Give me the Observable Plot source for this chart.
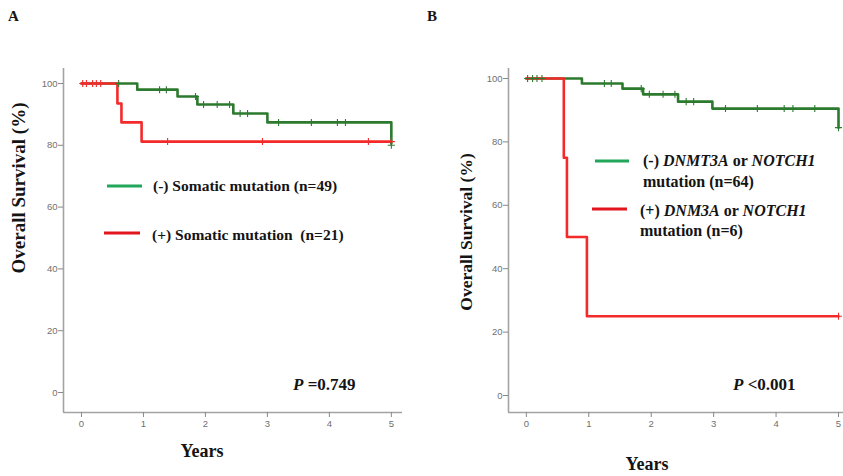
<!DOCTYPE html>
<html>
<head>
<meta charset="utf-8">
<script src="https://cdn.jsdelivr.net/npm/d3@7"></script>
<script src="https://cdn.jsdelivr.net/npm/@observablehq/plot@0.6"></script>
<style>
  html, body { margin: 0; padding: 0; background: #ffffff; }
  #wrap { position: relative; width: 843px; height: 476px; overflow: hidden; background: #ffffff; }
  #wrap > svg { position: absolute; top: 0; }
</style>
</head>
<body>
<div id="wrap"></div>
<script>
// ---------------- data ----------------
const yearTicks = [0, 1, 2, 3, 4, 5];
const survTicks = [0, 20, 40, 60, 80, 100];

// Panel A: (-) somatic mutation (n=49)
const aNegTime = [0, 0.90, 1.55, 1.87, 2.45, 3.00, 5.00];
const aNegSurv = [100, 98.0, 95.8, 93.2, 90.3, 87.4, 80.6];
const aNegCensorTime = [0.60, 1.26, 1.37, 1.84, 1.97, 2.19, 2.39, 2.56, 2.68, 3.18, 3.71, 4.13, 4.26, 5.00];
const aNegCensorSurv = [100, 98.0, 98.0, 95.8, 93.2, 93.2, 93.2, 90.3, 90.3, 87.4, 87.4, 87.4, 87.4, 80.0];
// Panel A: (+) somatic mutation (n=21)
const aPosTime = [0, 0.58, 0.645, 0.97, 5.00];
const aPosSurv = [100, 93.5, 87.4, 81.2, 81.2];
const aPosCensorTime = [0.02, 0.08, 0.18, 0.24, 0.31, 1.39, 2.92, 4.63, 5.00];
const aPosCensorSurv = [100, 100, 100, 100, 100, 81.2, 81.2, 81.2, 81.2];

// Panel B: (-) DNMT3A or NOTCH1 mutation (n=64)
const bNegTime = [0, 0.89, 1.54, 1.87, 2.43, 2.98, 5.00];
const bNegSurv = [100, 98.4, 96.8, 95.0, 92.7, 90.5, 84.5];
const bNegCensorTime = [0.02, 0.10, 0.17, 0.25, 1.25, 1.36, 1.84, 1.97, 2.19, 2.38, 2.56, 2.68, 3.19, 3.70, 4.13, 4.27, 4.62, 5.00];
const bNegCensorSurv = [100, 100, 100, 100, 98.4, 98.4, 96.8, 95.0, 95.0, 95.0, 92.7, 92.7, 90.5, 90.5, 90.5, 90.5, 90.5, 84.5];
// Panel B: (+) DNM3A or NOTCH1 mutation (n=6)
const bPosTime = [0, 0.60, 0.65, 0.97, 5.00];
const bPosSurv = [100, 75, 50, 25, 25];
const bPosCensorTime = [5.00];
const bPosCensorSurv = [25];

// text
const panelLetters = ["A", "B"];
const yTitle = "Overall Survival (%)";
const xTitle = "Years";
const legendA = [
  [{t: "(-) Somatic mutation (n=49)"}],
  [{t: "(+) Somatic mutation  (n=21)"}]
];
const legendB = [
  [[{t: "(-) "}, {t: "DNMT3A", i: true}, {t: " or "}, {t: "NOTCH1", i: true}], [{t: "mutation (n=64)"}]],
  [[{t: "(+) "}, {t: "DNM3A", i: true}, {t: " or "}, {t: "NOTCH1", i: true}], [{t: "mutation (n=6)"}]]
];
const pTexts = [[{t: "P", i: true}, {t: " =0.749"}], [{t: "P", i: true}, {t: " <0.001"}]];

// ---------------- helpers ----------------
const GREEN = "#2c7a2e";
const RED = "#f42a2a";
const LEG_GREEN = "#21a65a";
const LEG_RED = "#e2141c";
const AXIS = "#a3a3a3";

const zip = (t, s) => t.map((d, i) => ({t: d, s: s[i]}));

function kmPanel(o) {
  return Plot.plot({
    width: o.width, height: 476,
    marginLeft: o.ml, marginRight: o.mr, marginTop: 68, marginBottom: 64,
    x: {domain: o.xd},
    y: {domain: o.yd},
    style: {color: "#707070", fontSize: "9.5px", fontFamily: "'Liberation Sans', Arial, sans-serif", background: "transparent", overflow: "visible"},
    marks: [
      Plot.ruleX([o.xd[0]], {stroke: AXIS, strokeWidth: 1.6}),
      Plot.ruleY([o.yd[0]], {stroke: AXIS, strokeWidth: 1.6}),
      Plot.axisX({ticks: yearTicks, tickFormat: d3.format("d"), tickSize: 5, tickPadding: 3, label: null, stroke: "#888"}),
      Plot.axisY({ticks: survTicks, tickFormat: d3.format("d"), tickSize: 5, tickPadding: 1, label: null, stroke: "#888"}),
      Plot.line(zip(o.negT, o.negS), {x: "t", y: "s", curve: "step-after", stroke: GREEN, strokeWidth: 2.6}),
      Plot.line(zip(o.posT, o.posS), {x: "t", y: "s", curve: "step-after", stroke: RED, strokeWidth: 2.6}),
      Plot.dot(zip(o.posCT, o.posCS), {x: "t", y: "s", symbol: "plus", r: 2.4, stroke: RED, strokeWidth: 1.1}),
      Plot.dot(zip(o.negCT, o.negCS), {x: "t", y: "s", symbol: "plus", r: 2.4, stroke: GREEN, strokeWidth: 1.1})
    ]
  });
}

const wrap = document.getElementById("wrap");

const chartA = kmPanel({
  width: 415, ml: 63, mr: 13, xd: [-0.29, 5.18], yd: [-6.47, 104.85],
  negT: aNegTime, negS: aNegSurv, posT: aPosTime, posS: aPosSurv,
  negCT: aNegCensorTime, negCS: aNegCensorSurv, posCT: aPosCensorTime, posCS: aPosCensorSurv
});
chartA.style.left = "0px";
wrap.appendChild(chartA);

const chartB = kmPanel({
  width: 413, ml: 78, mr: 0, xd: [-0.286, 5.08], yd: [-5.36, 103.15],
  negT: bNegTime, negS: bNegSurv, posT: bPosTime, posS: bPosSurv,
  negCT: bNegCensorTime, negCS: bNegCensorSurv, posCT: bPosCensorTime, posCS: bPosCensorSurv
});
chartB.style.left = "430px";
wrap.appendChild(chartB);

// ---------------- text overlay ----------------
const svg = d3.create("svg")
  .attr("width", 843).attr("height", 476)
  .style("left", "0px").style("pointer-events", "none")
  .style("font-family", "'Liberation Serif', 'Times New Roman', serif")
  .style("font-weight", "bold")
  .attr("fill", "#141414");

function rich(x, y, parts, size, anchor) {
  const t = svg.append("text").attr("x", x).attr("y", y)
    .attr("font-size", size).attr("text-anchor", anchor || "start")
    .attr("xml:space", "preserve").style("white-space", "pre");
  parts.forEach(p => t.append("tspan").attr("font-style", p.i ? "italic" : "normal").text(p.t));
  return t;
}

// panel letters
rich(8, 21, [{t: panelLetters[0]}], 15);
rich(427, 21, [{t: panelLetters[1]}], 15);

// y titles
svg.append("text").attr("transform", "translate(25,188) rotate(-90)")
  .attr("text-anchor", "middle").attr("font-size", 19).text(yTitle);
svg.append("text").attr("transform", "translate(472,232) rotate(-90)")
  .attr("text-anchor", "middle").attr("font-size", 17.5).text(yTitle);

// x titles
rich(202, 457, [{t: xTitle}], 18, "middle");
rich(647, 470, [{t: xTitle}], 18, "middle");

// p values
rich(293, 390, pTexts[0], 17);
rich(733, 390, pTexts[1], 17);

// legend A
svg.append("line").attr("x1", 107).attr("x2", 142).attr("y1", 186).attr("y2", 186).attr("stroke", LEG_GREEN).attr("stroke-width", 3);
svg.append("line").attr("x1", 104).attr("x2", 140).attr("y1", 233).attr("y2", 233).attr("stroke", LEG_RED).attr("stroke-width", 3);
rich(153, 191, legendA[0], 15.5);
rich(152, 240, legendA[1], 15.5);

// legend B
svg.append("line").attr("x1", 595).attr("x2", 629).attr("y1", 161).attr("y2", 161).attr("stroke", LEG_GREEN).attr("stroke-width", 3);
svg.append("line").attr("x1", 592).attr("x2", 627).attr("y1", 209).attr("y2", 209).attr("stroke", LEG_RED).attr("stroke-width", 3);
rich(643, 166, legendB[0][0], 16);
rich(643, 187, legendB[0][1], 16);
rich(640, 216, legendB[1][0], 16);
rich(640, 236, legendB[1][1], 16);

wrap.appendChild(svg.node());
</script>
</body>
</html>
